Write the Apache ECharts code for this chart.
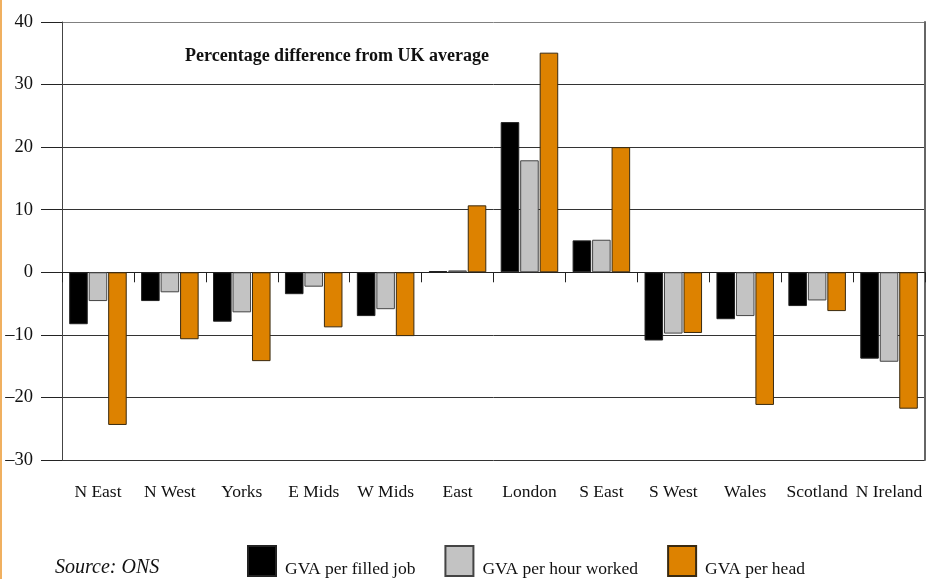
<!DOCTYPE html>
<html><head><meta charset="utf-8">
<script src="https://cdn.jsdelivr.net/npm/echarts@6/dist/echarts.min.js"></script>
<style>html,body{margin:0;padding:0;background:#fff}#c{width:926px;height:579px}</style>
</head><body><div id="c"></div>
<script>
const categories = ['N East','N West','Yorks','E Mids','W Mids','East','London','S East','S West','Wales','Scotland','N Ireland'];
const perFilledJob = [-8.3,-4.6,-7.9,-3.5,-7.0,0.2,24.0,5.1,-10.9,-7.5,-5.4,-13.8];
const perHourWorked = [-4.6,-3.2,-6.4,-2.3,-5.9,0.3,17.9,5.2,-9.8,-7.0,-4.5,-14.3];
const perHead = [-24.4,-10.7,-14.2,-8.8,-10.2,10.7,35.1,20.0,-9.7,-21.2,-6.2,-21.8];
const seriesNames = ['GVA per filled job','GVA per hour worked','GVA per head'];
const chartTitle = 'Percentage difference from UK average';
const sourceText = 'Source: ONS';

const FONT = '"Liberation Serif", "DejaVu Serif", serif';
const chart = echarts.init(document.getElementById('c'));
const fmt = v => v < 0 ? '\u2013' + Math.abs(v) : String(v);
chart.setOption({
  animation: false,
  backgroundColor: '#fff',
  textStyle: {fontFamily: FONT},
  title: {text: chartTitle, left: 180, top: 42, textStyle: {fontFamily: FONT, fontSize: 18, fontWeight: 'bold', color: '#111'}},
  grid: {left: 62, right: 1, top: 22, bottom: 119},
  legend: {
    left: 242, top: 540, itemWidth: 28, itemHeight: 30, itemGap: 29, icon: 'rect',
    formatter: '{a|{name}}',
    textStyle: {fontFamily: FONT, fontSize: 17.5, color: '#111',
      rich: {a: {fontFamily: FONT, fontSize: 17.5, color: '#111', padding: [16, 0, 0, 4]}}},
    data: seriesNames
  },
  xAxis: [
    {type: 'category', data: categories, position: 'bottom',
     axisLine: {show: false, onZero: false}, axisTick: {show: false},
     axisLabel: {interval: 0, fontFamily: FONT, fontSize: 17.5, color: '#111', margin: 23}},
    {type: 'category', data: categories, position: 'bottom',
     axisLine: {show: true, onZero: true, lineStyle: {color: '#222', width: 1}},
     axisTick: {show: true, length: 10, lineStyle: {color: '#222'}},
     axisLabel: {show: false}}
  ],
  yAxis: [
    {type: 'value', min: -30, max: 40, interval: 10,
     axisLine: {show: true, lineStyle: {color: '#444'}},
     axisTick: {show: true, length: 21, lineStyle: {color: '#222'}},
     axisLabel: {fontFamily: FONT, fontSize: 18.5, color: '#111', margin: 29, formatter: fmt},
     splitLine: {show: true, lineStyle: {color: ['#333','#333','#333','#333','#333','#333','#333','#808080'], width: 1}}},
    {type: 'value', min: -30, max: 40, interval: 10, position: 'right',
     axisLine: {show: true, lineStyle: {color: '#666', width: 2}},
     axisTick: {show: false}, axisLabel: {show: false}, splitLine: {show: false}}
  ],
  series: [
    {name: seriesNames[0], type: 'bar', data: perFilledJob, barCategoryGap: '20%', barGap: '5%',
     itemStyle: {color: '#000', borderColor: '#222', borderWidth: 1}},
    {name: seriesNames[1], type: 'bar', data: perHourWorked,
     itemStyle: {color: '#c3c3c3', borderColor: '#444', borderWidth: 1}},
    {name: seriesNames[2], type: 'bar', data: perHead,
     itemStyle: {color: '#dd8200', borderColor: '#3a2a10', borderWidth: 1}}
  ],
  graphic: [
    {type: 'rect', left: 0, top: 0, shape: {width: 2, height: 579}, style: {fill: '#f0b060'}},
    {type: 'text', left: 55, top: 558, style: {text: sourceText, font: 'italic 20px "Liberation Serif", serif', fill: '#111'}}
  ]
});
</script></body></html>
